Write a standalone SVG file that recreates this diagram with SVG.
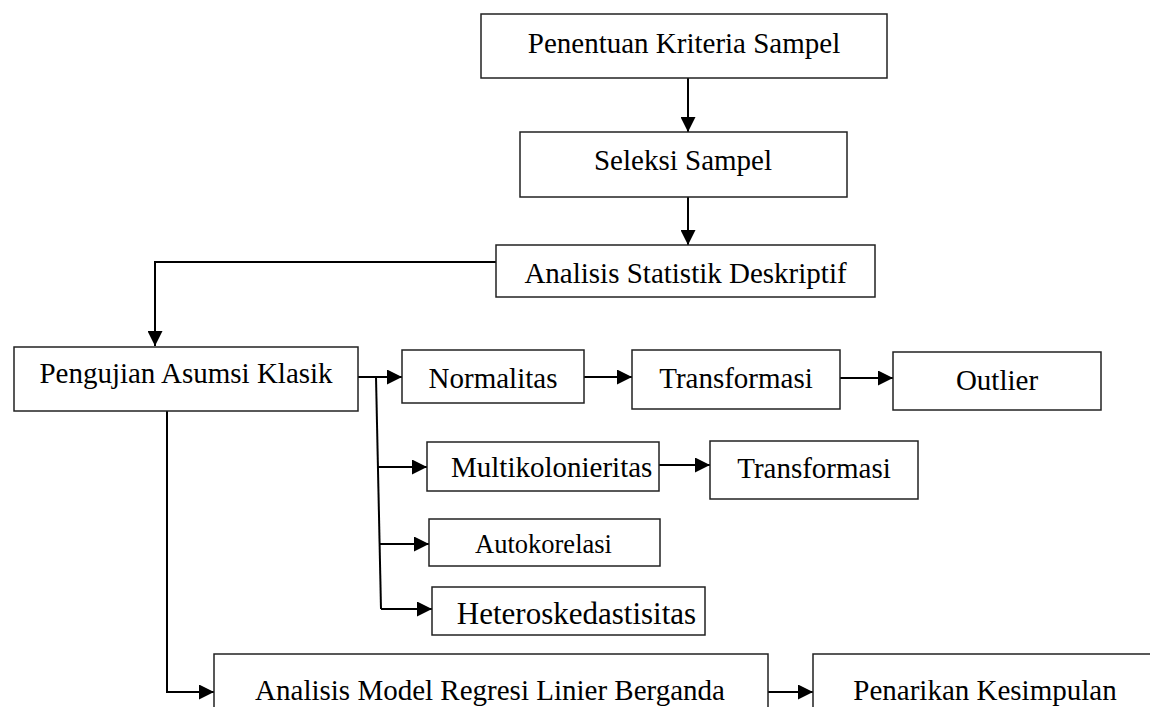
<svg xmlns="http://www.w3.org/2000/svg" width="1150" height="707" viewBox="0 0 1150 707">
<style>
.box{fill:#fff;stroke:#222;stroke-width:1.5}
.t{font-family:'Liberation Serif','Times New Roman',Times,serif;font-size:29px;fill:#000}
.c{fill:none;stroke:#000;stroke-width:2}
</style>
<defs>
<marker id="ah" markerUnits="userSpaceOnUse" markerWidth="15" markerHeight="15" refX="15" refY="7.5" orient="auto">
<path d="M0,0 L15,7.5 L0,15 Z" fill="#000"/>
</marker>
</defs>
<rect width="1150" height="707" fill="#fff"/>
<g id="connectors">
<line class="c" x1="688" y1="78" x2="688" y2="132" marker-end="url(#ah)"/>
<line class="c" x1="688" y1="197" x2="688" y2="245" marker-end="url(#ah)"/>
<polyline class="c" points="496,262 155,262 155,346" marker-end="url(#ah)"/>
<line class="c" x1="358" y1="377" x2="402" y2="377" marker-end="url(#ah)"/>
<line class="c" x1="584" y1="377" x2="632" y2="377" marker-end="url(#ah)"/>
<line class="c" x1="840" y1="378" x2="893" y2="378" marker-end="url(#ah)"/>
<line class="c" x1="376" y1="377" x2="381" y2="609"/>
<line class="c" x1="377" y1="467" x2="427" y2="467" marker-end="url(#ah)"/>
<line class="c" x1="659" y1="465" x2="710" y2="465" marker-end="url(#ah)"/>
<line class="c" x1="379" y1="544" x2="429" y2="544" marker-end="url(#ah)"/>
<line class="c" x1="381" y1="609" x2="432" y2="609" marker-end="url(#ah)"/>
<polyline class="c" points="167,411 167,692 214,692" marker-end="url(#ah)"/>
<line class="c" x1="768" y1="692" x2="813" y2="692" marker-end="url(#ah)"/>
</g>
<g font-family="Liberation Serif, Times New Roman, serif">
<g id="n1"><rect class="box" x="481" y="14" width="406" height="64"/><text class="t" font-family="Liberation Serif" x="684" y="53" text-anchor="middle">Penentuan Kriteria Sampel</text></g>
<g id="n2"><rect class="box" x="520" y="132" width="327" height="65"/><text class="t" font-family="Liberation Serif" x="683" y="170" text-anchor="middle">Seleksi Sampel</text></g>
<g id="n3"><rect class="box" x="496" y="245" width="379" height="52"/><text class="t" font-family="Liberation Serif" x="685.5" y="283" text-anchor="middle">Analisis Statistik Deskriptif</text></g>
<g id="n4"><rect class="box" x="14" y="347" width="344" height="64"/><text class="t" font-family="Liberation Serif" x="186" y="383" text-anchor="middle">Pengujian Asumsi Klasik</text></g>
<g id="n5"><rect class="box" x="402" y="350" width="182" height="53"/><text class="t" font-family="Liberation Serif" x="493" y="388" text-anchor="middle">Normalitas</text></g>
<g id="n6"><rect class="box" x="632" y="350" width="208" height="59"/><text class="t" font-family="Liberation Serif" x="736" y="388" text-anchor="middle">Transformasi</text></g>
<g id="n7"><rect class="box" x="893" y="352" width="208" height="58"/><text class="t" font-family="Liberation Serif" x="997" y="390" text-anchor="middle">Outlier</text></g>
<g id="n8"><rect class="box" x="427" y="442" width="232" height="49"/><text class="t" font-family="Liberation Serif" x="451" y="477">Multikolonieritas</text></g>
<g id="n9"><rect class="box" x="710" y="441" width="208" height="58"/><text class="t" font-family="Liberation Serif" x="814" y="478" text-anchor="middle">Transformasi</text></g>
<g id="n10"><rect class="box" x="429" y="519" width="231" height="47"/><text class="t" font-family="Liberation Serif" x="543.5" y="553" text-anchor="middle" style="font-size:26.5px">Autokorelasi</text></g>
<g id="n11"><rect class="box" x="432" y="587" width="273" height="48"/><text class="t" font-family="Liberation Serif" x="576.5" y="624" text-anchor="middle" style="font-size:31px">Heteroskedastisitas</text></g>
<g id="n12"><rect class="box" x="214" y="654" width="554" height="70"/><text class="t" font-family="Liberation Serif" x="490" y="700" text-anchor="middle">Analisis Model Regresi Linier Berganda</text></g>
<g id="n13"><rect class="box" x="813" y="654" width="360" height="70"/><text class="t" font-family="Liberation Serif" x="985" y="700" text-anchor="middle">Penarikan Kesimpulan</text></g>
</g>
</svg>
